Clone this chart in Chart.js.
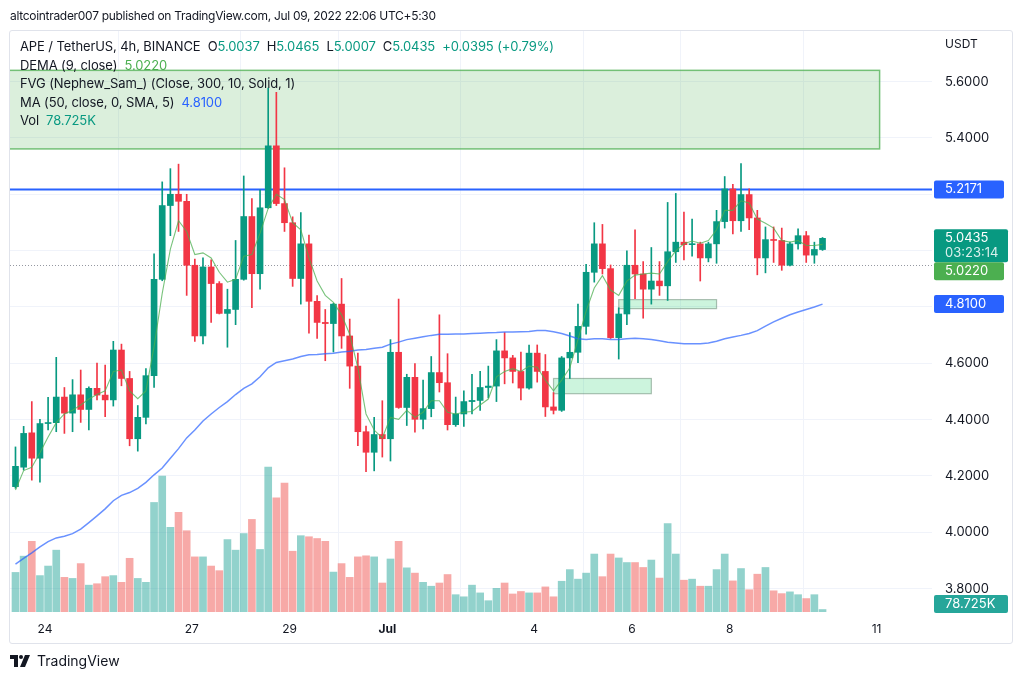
<!DOCTYPE html>
<html>
<head>
<meta charset="utf-8">
<script src="https://cdn.jsdelivr.net/npm/chart.js@4.4.0/dist/chart.umd.min.js"></script>
<style>
  body { margin: 0; background: #fff; font-family: Inter, "Noto Sans", sans-serif; color: #131722; }
  #wrap { position: relative; width: 1024px; height: 680px; overflow: hidden; }
  #frame { position: absolute; left: 9px; top: 30px; width: 1002px; height: 612px; border: 1px solid #e0e3eb; border-radius: 3px; }
  canvas { position: absolute; left: 0; top: 0; }
  .txt { position: absolute; white-space: pre; }
  #title { left: 10px; top: 8px; font-size: 12px; letter-spacing: -0.3px; }
  #legend { left: 20px; top: 37px; font-size: 13px; line-height: 18.6px; letter-spacing: -0.1px; }
  .up { color: #089981; }
  .dema { color: #4caf50; }
  .ma { color: #2962ff; }
  #usdt { left: 945px; top: 36px; font-size: 12px; }
  #foot { left: 10px; top: 652px; font-size: 14px; display: flex; align-items: center; gap: 5px; }
</style>
</head>
<body>
<div id="wrap">
  <div id="frame"></div>
  <canvas id="chart" width="1024" height="680"></canvas>
  <div id="title" class="txt">altcointrader007 published on TradingView.com, Jul 09, 2022 22:06 UTC+5:30</div>
  <div id="legend" class="txt"></div>
  <div id="usdt" class="txt">USDT</div>
  <div id="foot" class="txt">
    <svg width="22" height="12" viewBox="0 0 22 12"><path d="M0 0h8v12H4V4H0z" fill="#131722"/><circle cx="11" cy="2" r="2" fill="#131722"/><path d="M15 0h5l-5 12h-5z" fill="#131722"/></svg>
    <span>TradingView</span>
  </div>
</div>
<script>
// time in days, Jun 24 00:00 = 24, Jul 1 = 31
const candleStart = 23 + 9.5 / 24;
const candleStep = 4 / 24;

const opens = [4.162,4.231,4.353,4.263,4.386,4.389,4.480,4.423,4.488,4.436,
  4.511,4.487,4.470,4.647,4.546,4.332,4.408,4.556,4.898,5.160,
  5.200,5.175,4.948,4.697,4.942,4.883,4.777,4.791,4.898,5.121,
  4.918,5.152,5.372,5.167,5.099,4.901,5.024,4.820,4.745,4.741,
  4.810,4.697,4.590,4.357,4.284,4.347,4.332,4.639,4.443,4.550,
  4.401,4.439,4.567,4.531,4.382,4.420,4.464,4.468,4.514,4.519,
  4.644,4.619,4.571,4.512,4.636,4.571,4.445,4.433,4.619,4.639,
  4.731,4.923,5.024,4.936,4.691,4.775,4.948,4.917,4.863,4.892,
  4.875,4.996,5.030,5.021,5.024,4.974,5.024,5.103,5.219,5.106,
  5.199,5.116,4.974,5.039,5.036,4.948,5.024,5.053,4.984,5.0037];
const highs = [4.303,4.376,4.464,4.401,4.479,4.621,4.514,4.542,4.576,4.516,
  4.601,4.594,4.678,4.668,4.571,4.450,4.581,4.989,5.244,5.291,
  5.307,5.200,4.970,4.974,4.967,4.890,4.863,5.036,5.265,5.185,
  5.216,5.577,5.562,5.294,5.120,5.135,5.055,4.840,4.791,4.813,
  4.901,4.757,4.636,4.377,4.408,4.467,4.684,4.828,4.561,4.599,
  4.540,4.624,4.772,4.634,4.480,4.502,4.561,4.571,4.590,4.684,
  4.709,4.628,4.640,4.665,4.665,4.631,4.496,4.624,4.709,4.810,
  4.951,5.099,5.093,4.949,4.797,4.999,5.074,4.961,5.011,4.961,
  5.171,5.203,5.137,5.112,5.030,5.030,5.143,5.263,5.235,5.309,
  5.219,5.143,5.084,5.084,5.080,5.030,5.077,5.068,5.030,5.0465];
const lows = [4.156,4.221,4.185,4.178,4.363,4.357,4.351,4.357,4.390,4.363,
  4.470,4.410,4.448,4.520,4.307,4.288,4.385,4.514,4.893,5.053,
  5.068,4.841,4.678,4.669,4.745,4.775,4.657,4.737,4.895,4.797,
  4.863,5.150,5.160,5.068,4.873,4.810,4.707,4.688,4.609,4.640,
  4.653,4.511,4.307,4.215,4.218,4.267,4.253,4.440,4.379,4.355,
  4.367,4.410,4.498,4.363,4.376,4.376,4.420,4.433,4.477,4.464,
  4.527,4.530,4.470,4.508,4.533,4.411,4.420,4.429,4.546,4.602,
  4.703,4.888,4.917,4.688,4.615,4.737,4.829,4.760,4.810,4.841,
  4.823,4.958,4.967,4.980,4.892,4.960,4.955,5.080,5.059,5.068,
  5.074,4.914,4.921,4.958,4.930,4.946,5.005,4.958,4.955,5.0007];
const closes = [4.234,4.351,4.263,4.386,4.389,4.480,4.423,4.488,4.436,4.511,
  4.487,4.470,4.647,4.546,4.332,4.408,4.556,4.898,5.160,5.200,
  5.175,4.948,4.697,4.942,4.883,4.777,4.791,4.898,5.121,4.918,
  5.152,5.372,5.167,5.099,4.901,5.024,4.820,4.745,4.741,4.810,
  4.697,4.590,4.357,4.284,4.347,4.332,4.639,4.443,4.550,4.401,
  4.439,4.567,4.531,4.382,4.420,4.464,4.468,4.514,4.519,4.644,
  4.619,4.571,4.512,4.636,4.571,4.445,4.433,4.619,4.639,4.731,
  4.923,5.024,4.936,4.691,4.775,4.948,4.917,4.863,4.892,4.875,
  4.996,5.030,5.021,5.024,4.974,5.024,5.103,5.219,5.106,5.199,
  5.116,4.974,5.039,5.036,4.948,5.024,5.053,4.984,5.0040,5.0435];
// volume in thousands
const volumes = [1260,1778,2250,1159,1463,1969,1103,1069,1541,855,
  900,1125,1159,945,1710,1069,945,3488,4331,2700,
  3173,2588,1755,1755,1463,1316,2306,1969,2498,2948,
  1991,4613,3634,4106,1935,2430,2396,2340,2250,1271,
  1541,1103,1755,1789,1755,923,1688,2250,1406,1238,
  945,821,923,1193,551,484,855,608,360,754,
  923,574,653,608,608,799,484,979,1350,1046,
  1238,1845,1125,1845,1721,1575,1575,1418,1654,1080,
  2813,1845,1013,1046,821,821,1350,1845,990,1384,
  709,1204,1418,675,585,641,551,428,551,78.725];
const demaValues = [4.150,4.219,4.231,4.282,4.338,4.389,4.420,4.433,4.452,4.473,
  4.489,4.502,4.571,4.576,4.502,4.474,4.502,4.659,4.848,5.005,
  5.106,5.068,4.986,4.992,4.974,4.923,4.888,4.898,4.980,4.986,
  5.062,5.150,5.200,5.181,5.099,5.074,4.974,4.892,4.841,4.816,
  4.772,4.703,4.584,4.420,4.363,4.335,4.408,4.401,4.433,4.408,
  4.426,4.467,4.467,4.426,4.420,4.426,4.429,4.452,4.473,4.552,
  4.571,4.581,4.571,4.590,4.586,4.540,4.502,4.540,4.584,4.684,
  4.785,4.867,4.911,4.860,4.841,4.892,4.913,4.917,4.920,4.917,
  4.961,4.999,5.024,5.034,5.026,5.036,5.074,5.143,5.143,5.177,
  5.169,5.112,5.097,5.080,5.036,5.030,5.036,5.018,5.018,5.022];
const maValues = [3.887,3.907,3.927,3.948,3.967,3.980,3.986,3.995,4.011,4.034,
  4.058,4.083,4.112,4.131,4.141,4.156,4.177,4.204,4.228,4.263,
  4.297,4.335,4.363,4.395,4.420,4.443,4.464,4.489,4.511,4.527,
  4.552,4.584,4.603,4.609,4.615,4.624,4.630,4.631,4.634,4.636,
  4.640,4.643,4.647,4.649,4.653,4.657,4.668,4.675,4.684,4.689,
  4.694,4.699,4.703,4.703,4.704,4.704,4.706,4.707,4.708,4.709,
  4.711,4.711,4.712,4.713,4.716,4.716,4.712,4.706,4.697,4.687,
  4.684,4.687,4.687,4.684,4.684,4.687,4.689,4.687,4.684,4.680,
  4.675,4.672,4.669,4.669,4.669,4.672,4.678,4.687,4.693,4.699,
  4.706,4.716,4.732,4.747,4.760,4.772,4.782,4.791,4.800,4.810];

// fair value gap boxes
const fvgStart = [22.0, 34.396, 35.729];
const fvgEnd = [41.063, 36.396, 37.729];
const fvgTop = [5.640, 4.546, 4.826];
const fvgBottom = [5.361, 4.492, 4.794];

const levelPrice = 5.2171;
const prevDayClose = 4.948;
const countdown = '03:23:14';

const dayTicks = [24, 27, 29, 31, 34, 36, 38, 41];
const dayLabels = ['24', '27', '29', 'Jul', '4', '6', '8', '11'];
const priceTicks = [3.8, 4.0, 4.2, 4.4, 4.6, 4.8, 5.0, 5.2, 5.4, 5.6];

const UP = '#089981', DOWN = '#f23645';
const last = closes.length - 1;

const xs = opens.map((_, i) => candleStart + i * candleStep);
const candleColors = opens.map((o, i) => closes[i] >= o ? UP : DOWN);
const volColors = opens.map((o, i) => closes[i] >= o ? 'rgba(38,166,154,0.5)' : 'rgba(239,83,80,0.5)');

// legend text
const chg = closes[last] - closes[last - 1];
document.getElementById('legend').innerHTML =
  '<div>APE / TetherUS, 4h, BINANCE&nbsp; O<span class="up">' + opens[last].toFixed(4) +
  '</span>&nbsp; H<span class="up">' + highs[last].toFixed(4) +
  '</span>&nbsp; L<span class="up">' + lows[last].toFixed(4) +
  '</span>&nbsp; C<span class="up">' + closes[last].toFixed(4) +
  '</span>&nbsp; <span class="up">+' + chg.toFixed(4) + ' (+' + (chg / closes[last - 1] * 100).toFixed(2) + '%)</span></div>' +
  '<div>DEMA (9, close)&nbsp; <span class="dema">' + demaValues[last].toFixed(4) + '</span></div>' +
  '<div>FVG (Nephew_Sam_) (Close, 300, 10, Solid, 1)</div>' +
  '<div>MA (50, close, 0, SMA, 5)&nbsp; <span class="ma">' + maValues[last].toFixed(4) + '</span></div>' +
  '<div>Vol&nbsp; <span class="up">' + volumes[last].toFixed(3) + 'K</span></div>';

const overlayPlugin = {
  id: 'overlay',
  beforeDatasetsDraw(chart) {
    const { ctx, chartArea: a, scales: { x, y } } = chart;
    ctx.save();
    ctx.beginPath();
    ctx.rect(a.left, a.top, a.right - a.left, a.bottom - a.top);
    ctx.clip();
    fvgTop.forEach((top, i) => {
      const x1 = x.getPixelForValue(fvgStart[i]), x2 = x.getPixelForValue(fvgEnd[i]);
      const y1 = y.getPixelForValue(top), y2 = y.getPixelForValue(fvgBottom[i]);
      ctx.fillStyle = i === 0 ? 'rgba(76,175,80,0.2)' : 'rgba(0,200,83,0.2)';
      ctx.strokeStyle = i === 0 ? 'rgba(76,175,80,0.75)' : 'rgba(110,140,120,0.55)';
      ctx.lineWidth = i === 0 ? 1.5 : 1.2;
      ctx.fillRect(x1, y1, x2 - x1, y2 - y1);
      ctx.strokeRect(x1, y1, x2 - x1, y2 - y1);
    });
    // previous day close, dotted
    const yp = Math.round(y.getPixelForValue(prevDayClose)) + 0.5;
    ctx.strokeStyle = '#9598a1';
    ctx.lineWidth = 1;
    ctx.setLineDash([1, 2]);
    ctx.beginPath(); ctx.moveTo(a.left, yp); ctx.lineTo(a.right, yp); ctx.stroke();
    ctx.setLineDash([]);
    // horizontal level
    const yl = y.getPixelForValue(levelPrice);
    ctx.strokeStyle = '#2962ff';
    ctx.lineWidth = 2;
    ctx.beginPath(); ctx.moveTo(a.left, yl); ctx.lineTo(a.right, yl); ctx.stroke();
    ctx.restore();
  },
  afterDraw(chart) {
    const { ctx, chartArea: a, scales: { y, yv } } = chart;
    const left = a.right + 2;
    ctx.save();
    ctx.font = '13px Inter, "Noto Sans", sans-serif';
    ctx.textBaseline = 'middle';
    const box = (yc, h, w, color, lines) => {
      const top = yc - 9;
      ctx.fillStyle = color;
      ctx.beginPath();
      ctx.roundRect(left, top, w, h, 2);
      ctx.fill();
      lines.forEach((t, k) => {
        ctx.fillStyle = k === 0 ? '#fff' : 'rgba(255,255,255,0.85)';
        ctx.fillText(t, left + 11, top + 9 + k * 15);
      });
      return top + h;
    };
    box(y.getPixelForValue(levelPrice), 18, 70, '#2962ff', [levelPrice.toFixed(4)]);
    const bottom = box(y.getPixelForValue(closes[last]), 33, 74, UP, [closes[last].toFixed(4), countdown]);
    const yd = Math.max(y.getPixelForValue(demaValues[last]), bottom + 9);
    box(yd, 18, 70, '#4caf50', [demaValues[last].toFixed(4)]);
    box(y.getPixelForValue(maValues[last]), 18, 70, '#2962ff', [maValues[last].toFixed(4)]);
    const yvol = Math.min(yv.getPixelForValue(volumes[last]), a.bottom - 8);
    box(yvol, 18, 74, '#26a69a', [volumes[last].toFixed(3) + 'K']);
    ctx.restore();
  }
};

new Chart(document.getElementById('chart').getContext('2d'), {
  type: 'bar',
  data: {
    datasets: [
      {
        type: 'line', label: 'DEMA', order: 0,
        data: xs.map((x, i) => ({ x, y: demaValues[i] })),
        borderColor: 'rgba(76,175,80,0.75)', borderWidth: 1.1, pointRadius: 0, tension: 0, yAxisID: 'y'
      },
      {
        type: 'line', label: 'MA', order: 1,
        data: xs.map((x, i) => ({ x, y: maValues[i] })),
        borderColor: 'rgba(41,98,255,0.7)', borderWidth: 1.5, pointRadius: 0, tension: 0, yAxisID: 'y'
      },
      {
        label: 'body', order: 2, grouped: false, barThickness: 6, minBarLength: 1,
        data: xs.map((x, i) => ({ x, y: [opens[i], closes[i]] })),
        backgroundColor: candleColors, borderWidth: 0, yAxisID: 'y'
      },
      {
        label: 'wick', order: 3, grouped: false, barThickness: 1,
        data: xs.map((x, i) => ({ x, y: [lows[i], highs[i]] })),
        backgroundColor: candleColors, borderWidth: 0, yAxisID: 'y'
      },
      {
        label: 'Vol', order: 4, grouped: false, barThickness: 7,
        data: xs.map((x, i) => ({ x, y: volumes[i] })),
        backgroundColor: volColors, borderWidth: 0, yAxisID: 'yv'
      }
    ]
  },
  options: {
    responsive: false,
    animation: false,
    devicePixelRatio: 1,
    layout: { padding: { left: 10, top: 31, right: 12, bottom: 38 } },
    plugins: { legend: { display: false }, tooltip: { enabled: false } },
    scales: {
      x: {
        type: 'linear', offset: false,
        min: 23.2836, max: 42.134,
        afterBuildTicks: s => { s.ticks = dayTicks.map(v => ({ value: v })); },
        afterFit: s => { s.height = 30; },
        grid: { color: '#f0f3fa', drawTicks: false },
        border: { display: false },
        ticks: {
          autoSkip: false, maxRotation: 0, padding: 10, color: '#131722',
          font: c => ({ size: 12, weight: dayLabels[c.index] === 'Jul' ? 'bold' : 'normal', family: 'Inter' }),
          callback: (v, i) => dayLabels[i]
        }
      },
      y: {
        position: 'right',
        min: 3.7169, max: 5.7797,
        afterBuildTicks: s => { s.ticks = priceTicks.map(v => ({ value: v })); },
        afterFit: s => { s.width = 80; },
        grid: { color: '#f0f3fa', drawTicks: false },
        border: { display: false },
        ticks: { padding: 13, color: '#131722', font: { size: 13, family: 'Inter' }, callback: v => v.toFixed(4) }
      },
      yv: { display: false, min: 0, max: 18500 }
    }
  },
  plugins: [overlayPlugin]
});
</script>
</body>
</html>
